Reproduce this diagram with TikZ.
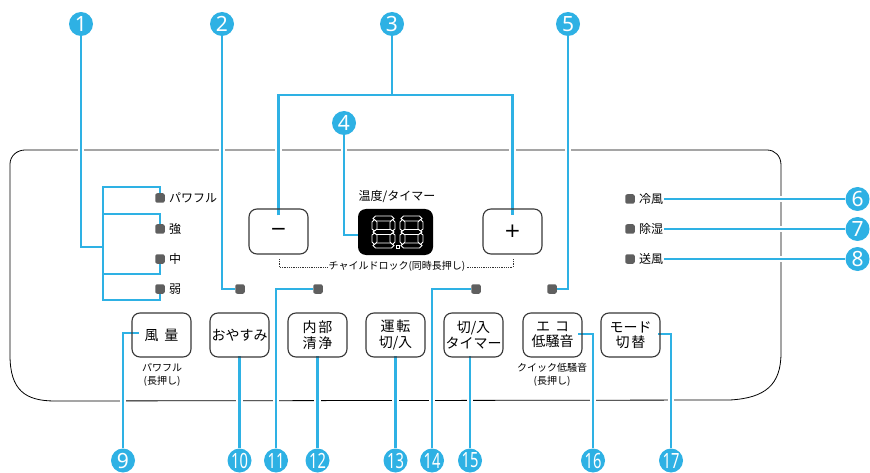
\documentclass[tikz,border=0pt]{standalone}
\usepackage{fontspec}
\usepackage{graphicx}
\usetikzlibrary{calc}
\newfontfamily\jp{Noto Sans CJK JP}
\newfontfamily\numf{Noto Sans}
\newfontfamily\dvs{DejaVu Sans}
\definecolor{blueC}{RGB}{46,177,228}
\definecolor{ledC}{RGB}{95,95,95}
\definecolor{btnC}{RGB}{55,55,55}
\pgfdeclarelayer{back}\pgfdeclarelayer{lines}\pgfsetlayers{back,lines,main}
\newcommand\BluePaths{%
 \draw[bl] (n1.south) |- (bj);
 \draw[bl] (la.north) |- (bt) -- (bb) -| (ld.south);
 \draw[bl] (b2) -| (lb.north);
 \draw[bl] (b3) -| (lc.south);
 \draw[bl] (n2.south) |- (l2.west);
 \draw[bl] (n3.south) -- (n3.south |- br3);
 \draw[bl] (mt) -- (mt |- br3) -- (pt |- br3) -- (pt);
 \draw[bl] (n4.south) |- (e4);
 \draw[bl] (n5.south) |- (l5.east);
 \draw[bl] (t6.east) -- (n6.west);
 \draw[bl] (t7.east) -- (n7.west);
 \draw[bl] (t8.east) -- (n8.west);
 \draw[bl] (n9.north) |- (e9);
 \draw[bl] (n10.north) -- (n10.north |- s10);
 \draw[bl] (n11.north) |- (l11.west);
 \draw[bl] (n12.north) -- (n12.north |- s12);
 \draw[bl] (n13.north) -- (n13.north |- s13);
 \draw[bl] (n14.north) |- (l14.west);
 \draw[bl] (n15.north) -- (n15.north |- s15);
 \draw[bl] (n16.north) |- (e16);
 \draw[bl] (n17.north) |- (e17);
}
% seven-segment digit: width 23, height 32, segment thickness 5
\newcommand\segdigit[2]{%
\begin{scope}[shift={(#1,#2)}]
 \draw[seg] (1,2.5) -- (3.5,0) -- (19.5,0) -- (22,2.5) -- (19.5,5) -- (3.5,5) -- cycle;
 \draw[seg] (1,16) -- (3.5,13.5) -- (19.5,13.5) -- (22,16) -- (19.5,18.5) -- (3.5,18.5) -- cycle;
 \draw[seg] (1,29.5) -- (3.5,27) -- (19.5,27) -- (22,29.5) -- (19.5,32) -- (3.5,32) -- cycle;
 \draw[seg] (2.5,3.5) -- (5,6) -- (5,13) -- (2.5,15) -- (0,13) -- (0,6) -- cycle;
 \draw[seg] (2.5,17) -- (5,19) -- (5,26) -- (2.5,28.5) -- (0,26) -- (0,19) -- cycle;
 \draw[seg] (20.5,3.5) -- (23,6) -- (23,13) -- (20.5,15) -- (18,13) -- (18,6) -- cycle;
 \draw[seg] (20.5,17) -- (23,19) -- (23,26) -- (20.5,28.5) -- (18,26) -- (18,19) -- cycle;
\end{scope}}
\begin{document}
\begin{tikzpicture}[x=1pt,y=-1pt,
  num/.style={circle,fill=blueC,text=white,minimum size=24,inner sep=0,font=\numf\bfseries\fontsize{21}{21}\selectfont},
  led/.style={rectangle,fill=ledC,minimum size=9.5,inner sep=0,rounded corners=2},
  lbl/.style={inner sep=1,font=\jp\fontsize{12}{13}\selectfont},
  small/.style={inner sep=1,align=center,font=\jp\fontsize{10}{12.5}\selectfont},
  btn/.style={draw=btnC,line width=1.1,rounded corners=8,minimum width=59,minimum height=44,inner sep=0,align=center,font=\jp\fontsize{14}{15.5}\selectfont},
  seg/.style={draw=white,line width=0.9,fill=black},
  dotl/.style={black!80,line width=0.7,dash pattern=on 0.7pt off 1.1pt},
  panel/.style={black,line width=0.8}]
\useasboundingbox (0,0) rectangle (870,473);
% panel outline
\begin{pgfonlayer}{back}
\draw[panel] (10,164) .. controls (10,156) and (17,150) .. (25,150) -- (767,150)
  .. controls (775,150) and (781,156) .. (781,165) -- (781,353)
  .. controls (781,385) and (765,398) .. (730,400) -- (55,401)
  .. controls (25,401) and (10,390) .. (10,355) -- cycle;
\end{pgfonlayer}
% number circles
\node[num] (n1) at (81,24) {1};
\node[num] (n2) at (222,24) {2};
\node[num] (n3) at (392,24) {3};
\node[num] (n4) at (344,123) {4};
\node[num] (n5) at (568,24) {5};
\node[num] (n6) at (857.5,199) {6};
\node[num] (n7) at (857.5,229) {7};
\node[num] (n8) at (857.5,259) {8};
\node[num] (n9) at (123,460.5) {9};
\node[num] (n10) at (239.5,460.5) {\scalebox{0.7}[1]{10}};
\node[num] (n11) at (276,460.5) {\scalebox{0.7}[1]{11}};
\node[num] (n12) at (317.5,460.5) {\scalebox{0.7}[1]{12}};
\node[num] (n13) at (395.5,460.5) {\scalebox{0.7}[1]{13}};
\node[num] (n14) at (432,460.5) {\scalebox{0.7}[1]{14}};
\node[num] (n15) at (470,460.5) {\scalebox{0.7}[1]{15}};
\node[num] (n16) at (593,460.5) {\scalebox{0.7}[1]{16}};
\node[num] (n17) at (671,460.5) {\scalebox{0.7}[1]{17}};
% left LEDs
\node[led] (la) at (160,198) {};
\node[led] (lb) at (160,229) {};
\node[led] (lc) at (160,259) {};
\node[led] (ld) at (160,289) {};
\node[lbl,anchor=west] (ta) at ($(la.east)+(3,0)$) {パワフル};
\node[lbl,anchor=west] (tb) at ($(lb.east)+(3,0)$) {強};
\node[lbl,anchor=west] (tc) at ($(lc.east)+(3,0)$) {中};
\node[lbl,anchor=west] (td) at ($(ld.east)+(3,0)$) {弱};
\coordinate (bt) at (103,187);
\coordinate (bb) at (103,300);
\coordinate (b2) at (103,214);
\coordinate (b3) at (103,274);
\coordinate (bj) at (103,247);
% other LEDs
\node[led] (l2) at (240,289) {};
\node[led] (l11) at (318,289) {};
\node[led] (l14) at (476,289) {};
\node[led] (l5) at (552,289) {};
% right LEDs
\node[led] (l6) at (630,199) {};
\node[led] (l7) at (630,229) {};
\node[led] (l8) at (630,259) {};
\node[lbl,anchor=west] (t6) at ($(l6.east)+(3,0)$) {冷風};
\node[lbl,anchor=west] (t7) at ($(l7.east)+(3,0)$) {除湿};
\node[lbl,anchor=west] (t8) at ($(l8.east)+(3,0)$) {送風};
% display area
\node[btn,minimum height=45] (bm) at (278.5,231.5) {\dvs\fontsize{20}{20}\selectfont −};
\node[btn,minimum height=45] (bp) at (512.5,231.5) {\dvs\fontsize{20}{20}\selectfont +};
\node[fill=black,rounded corners=8,minimum width=75,minimum height=46,inner sep=0] (disp) at (395.5,232) {};
\segdigit{372}{216}
\segdigit{400}{216}
\draw[seg] (396,245) rectangle (399,248.5);
\node[lbl] (tt) at (397,197) {温度/タイマー};
\node[small] (cl) at (397,266) {チャイルドロック(同時長押し)};
\coordinate (dl1) at (279,259);
\coordinate (dl2) at (279,267);
\coordinate (dr1) at (513,259);
\coordinate (dr2) at (513,267);
\draw[dotl] (dl1) -- (dl2) -- (cl.west |- dl2);
\draw[dotl] (dr1) -- (dr2) -- (cl.east |- dr2);
\coordinate (br3) at (0,95);
\coordinate (mt) at ($(bm.north)+(0,7)$);
\coordinate (pt) at ($(bp.north)+(0,7)$);
\coordinate (e4) at ($(disp.west)+(0,3)$);
% buttons
\node[btn] (b9) at (161.5,335) {風\hspace{6pt}量};
\node[btn] (b10) at (239.5,335) {おやすみ};
\node[btn] (b12) at (317.5,335) {内\hspace{2pt}部\\清\hspace{2pt}浄};
\node[btn] (b13) at (395.5,335) {運\hspace{2pt}転\\切/入};
\node[btn] (b15) at (473.5,335) {切/入\\タイマー};
\node[btn] (b16) at (552.5,335) {エ\hspace{5pt}コ\\低騒音};
\node[btn] (b17) at (630.5,335) {モード\\切\hspace{2pt}替};
\node[small] (u9) at (162,375) {パワフル\\(長押し)};
\node[small] (u16) at (552,375) {クイック低騒音\\(長押し)};
\coordinate (e9) at ($(b9.west)+(8,-2)$);
\coordinate (s10) at ($(b10.south)+(0,-2)$);
\coordinate (s12) at ($(b12.south)+(0,-2)$);
\coordinate (s13) at ($(b13.south)+(0,-2)$);
\coordinate (s15) at ($(b15.south)+(0,-2)$);
\coordinate (e16) at ($(b16.east)+(-5,-1)$);
\coordinate (e17) at ($(b17.east)+(-3,-1)$);
% connectors
\begin{pgfonlayer}{lines}
\tikzset{bl/.style={white,line width=6.5}}
\BluePaths
\tikzset{bl/.style={blueC,line width=2.4}}
\BluePaths
\end{pgfonlayer}
\end{tikzpicture}
\end{document}
